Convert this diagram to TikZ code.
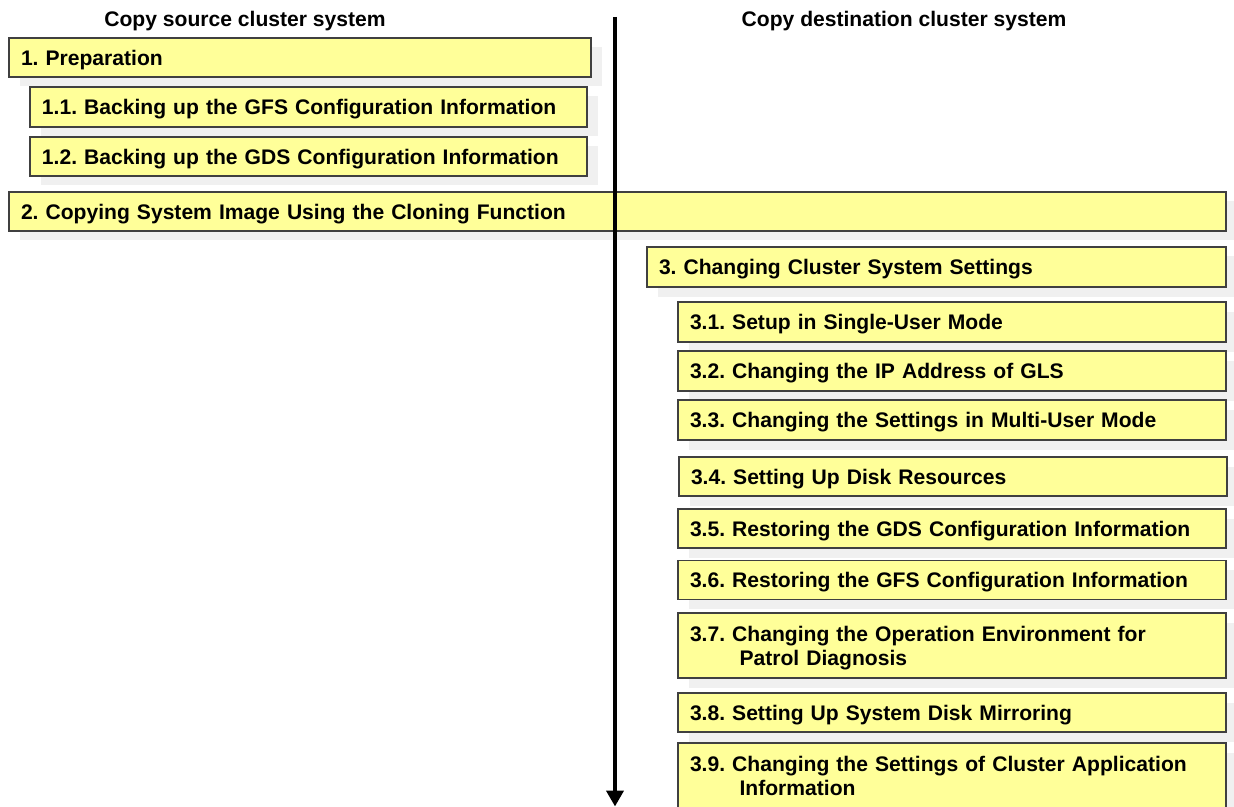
\documentclass[tikz,border=0pt]{standalone}
\usepackage{fontspec}
\setmainfont{Liberation Sans}
\usetikzlibrary{arrows.meta,shadows}
\definecolor{stepyellow}{HTML}{FFFF99}
\tikzset{
  stepbox/.style={draw=black!75, fill=stepyellow, line width=0.6pt,
    inner xsep=0.24cm, inner ysep=0pt, align=left, text width=#1,
    text depth=0pt, minimum height=0.78cm,
    drop shadow={shadow xshift=0.21cm, shadow yshift=-0.19cm, fill=black!6, opacity=1}},
  twoline/.style={minimum height=1.3cm, text depth=0.48cm},
  sidehead/.style={anchor=base, inner sep=0pt}
}
\frenchspacing
\begin{document}
\begin{tikzpicture}[font=\fontsize{12}{13.7}\selectfont\bfseries]
    \useasboundingbox (0,0) rectangle (24.68,-16.14);
    \node[sidehead] (srchead) at (4.9,-0.54) {Copy source cluster system};
    \node[sidehead] (dsthead) at (18.08,-0.54) {Copy destination cluster system};

    % copy source side
    \node[stepbox=11.16cm] (prep) at (6.0,-1.15) {1. Preparation};
    \node[stepbox=10.66cm, minimum height=0.8cm]
    (gfsbak) at (6.17,-2.14) {1.1. Backing up the GFS Configuration Information};
    \node[stepbox=10.66cm]
    (gdsbak) at (6.17,-3.13) {1.2. Backing up the GDS Configuration Information};
    \node[stepbox=23.86cm]
    (clone) at (12.35,-4.23) {2. Copying System Image Using the Cloning Function};

    % copy destination side
    \node[stepbox=11.10cm, minimum height=0.8cm]
    (change) at (18.73,-5.34) {3. Changing Cluster System Settings};
    \node[stepbox=10.48cm, minimum height=0.8cm]
    (setup) at (19.04,-6.44) {3.1. Setup in Single-User Mode};
    \node[stepbox=10.48cm, minimum height=0.8cm]
    (glsip) at (19.04,-7.42) {3.2. Changing the IP Address of GLS};
    \node[stepbox=10.48cm, minimum height=0.8cm]
    (multi) at (19.04,-8.4) {3.3. Changing the Settings in Multi-User Mode};
    \node[stepbox=10.48cm]
    (disk) at (19.06,-9.53) {3.4. Setting Up Disk Resources};
    \node[stepbox=10.48cm]
    (gdsres) at (19.04,-10.57) {3.5. Restoring the GDS Configuration Information};
    \node[stepbox=10.48cm]
    (gfsres) at (19.04,-11.6) {3.6. Restoring the GFS Configuration Information};
    \node[stepbox=10.48cm, twoline]
    (patrol) at (19.04,-12.91) {3.7. Changing the Operation Environment for\\\hspace*{2.35em}Patrol Diagnosis};
    \node[stepbox=10.48cm]
    (mirror) at (19.04,-14.25) {3.8. Setting Up System Disk Mirroring};
    \node[stepbox=10.48cm, twoline]
    (appinfo) at (19.04,-15.51) {3.9. Changing the Settings of Cluster Application\\\hspace*{2.35em}Information};

    \coordinate (flowtop) at (12.3,-0.34);
    \coordinate (flowend) at (12.3,-16.13);
    \draw[line width=2.8pt, -{Triangle[width=0.34cm, length=0.32cm]}] (flowtop) -- (flowend);
\end{tikzpicture}
\end{document}
